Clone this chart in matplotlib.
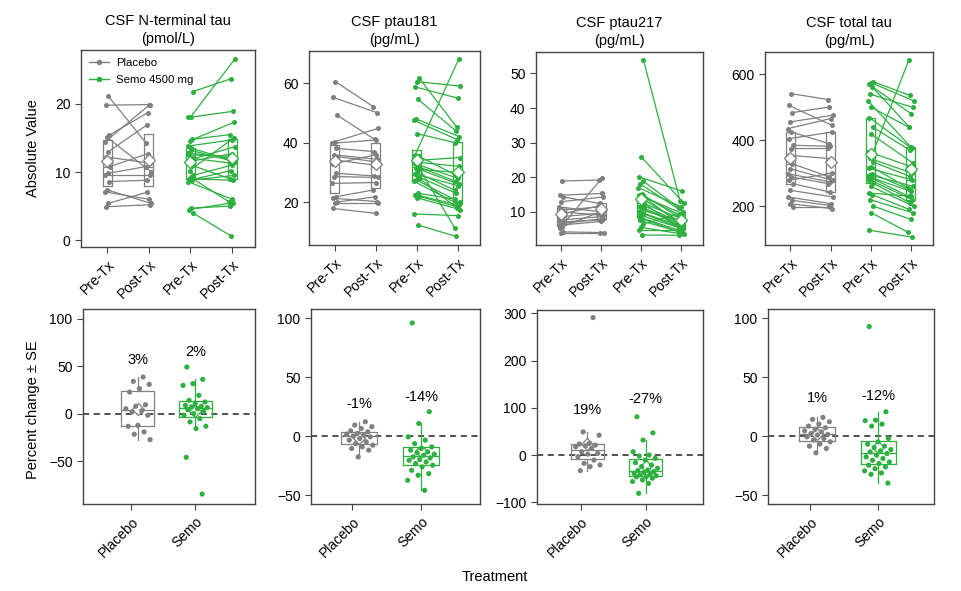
import numpy as np
import matplotlib
matplotlib.use('Agg')
import matplotlib.pyplot as plt
from matplotlib.lines import Line2D

plt.rcParams['font.family'] = ['Liberation Sans', 'DejaVu Sans']

GRAY = '#808080'
GREEN = '#2DB040'

titles = ['CSF N-terminal tau\n(pmol/L)', 'CSF ptau181\n(pg/mL)',
          'CSF ptau217\n(pg/mL)', 'CSF total tau\n(pg/mL)']
time_labels = ['Pre-Tx', 'Post-Tx', 'Pre-Tx', 'Post-Tx']
group_labels = ['Placebo', 'Semo']
legend_labels = ['Placebo', 'Semo 4500 mg']

# ---------------- top row: absolute values (pre, post) ----------------
nt_pla_pre = [21.2, 19.8, 15.4, 15.1, 14.4, 13.0, 12.2, 10.8, 9.8, 9.6, 8.6, 7.4, 7.1, 5.4, 4.9]
nt_pla_post = [14.2, 19.9, 18.7, 10.0, 19.8, 16.9, 11.3, 12.7, 10.8, 9.6, 8.8, 5.4, 6.0, 7.0, 5.2]
nt_sem_pre = [21.8, 18.1, 18.0, 14.8, 14.6, 13.8, 13.5, 12.5, 12.0, 11.8, 11.5, 11.0, 10.2, 9.5,
              9.2, 9.0, 8.9, 8.8, 8.6, 4.7, 4.5, 4.0, 13.2, 12.8]
nt_sem_post = [23.7, 26.6, 18.9, 15.5, 17.3, 14.7, 11.8, 12.3, 11.3, 13.7, 12.7, 9.0, 15.0, 11.0,
               5.6, 8.8, 10.2, 9.5, 6.0, 5.0, 5.5, 0.6, 11.5, 12.0]

p181_pla_pre = [60.5, 55.2, 49.3, 40.3, 39.8, 38.1, 35.9, 35.3, 34.2, 32.8, 29.7, 28.6, 26.3,
                21.8, 21.3, 20.0, 19.6, 17.9]
p181_pla_post = [52.1, 50.1, 41.1, 44.8, 40.9, 37.0, 34.4, 33.6, 32.5, 36.0, 28.8, 28.3, 26.6,
                 24.1, 20.2, 21.8, 19.6, 16.2]
p181_sem_pre = [61.8, 60.5, 58.8, 54.5, 48.0, 47.5, 43.0, 35.9, 35.5, 34.0, 33.0, 32.0, 31.5, 31.0,
                30.0, 29.5, 28.5, 27.5, 27.0, 23.0, 22.5, 22.0, 21.5, 16.0, 12.3, 33.5, 28.0, 32.5]
p181_sem_post = [45.2, 59.0, 54.9, 44.0, 42.0, 41.0, 40.0, 68.0, 29.0, 35.0, 28.0, 27.0, 26.0, 30.0,
                 24.0, 25.5, 23.0, 20.0, 19.5, 21.0, 19.0, 18.5, 17.5, 15.5, 8.5, 32.0, 18.0, 11.2]

p217_pla_pre = [18.9, 14.8, 14.3, 12.9, 11.4, 10.5, 10.0, 9.5, 8.6, 7.6, 7.1, 6.6, 6.1, 5.7, 5.2, 4.2, 3.9]
p217_pla_post = [19.2, 15.3, 12.4, 14.3, 10.0, 11.4, 9.0, 11.8, 9.5, 8.6, 7.6, 8.0, 7.2, 9.8, 19.9, 4.0, 3.9]
p217_sem_pre = [54.0, 25.9, 20.1, 19.0, 18.0, 17.0, 15.1, 14.8, 14.5, 14.0, 13.0, 12.0, 11.5, 11.0,
                10.5, 10.0, 9.5, 9.0, 8.5, 8.0, 7.5, 6.5, 5.5, 4.8, 3.3, 15.0, 12.5]
p217_sem_post = [13.0, 12.5, 16.0, 11.0, 10.0, 11.5, 8.5, 9.5, 9.0, 6.5, 8.0, 7.0, 6.2, 6.0,
                 7.5, 5.8, 5.5, 5.0, 4.5, 4.2, 4.0, 9.5, 3.5, 4.8, 3.2, 6.0, 5.0]

tt_pla_pre = [541.8, 506.0, 484.0, 455.7, 435.4, 425.3, 405.0, 384.8, 374.7, 354.4, 329.1, 314.0,
              298.7, 288.6, 278.5, 268.4, 248.0, 227.8, 217.7, 207.6, 197.5]
tt_pla_post = [523.5, 445.6, 501.0, 476.0, 466.0, 390.0, 425.0, 382.0, 375.0, 344.0, 288.6, 278.5,
               273.4, 268.4, 300.0, 243.0, 227.8, 207.6, 202.5, 192.4, 197.5]
tt_sem_pre = [578, 575, 570, 562, 540, 520, 500, 469, 440, 420, 365, 355, 345, 334, 320, 315, 299,
              295, 290, 285, 280, 270, 260, 240, 235, 220, 200, 180, 127]
tt_sem_post = [536, 520, 480, 440, 500, 380, 440, 375, 370, 330, 320, 645, 300, 290, 255, 280, 250,
               260, 245, 230, 220, 210, 200, 230, 190, 180, 160, 120, 106]

# ---------------- bottom row: percent change ----------------
pc_nt_pla = [38.5, 34.0, 30.8, 26.2, 22.7, 9.4, 7.7, 5.2, 3.0, 1.7, -1.7, -12.2, -13.3, -19.2, -21.7, -27.3]
pc_nt_sem = [49, 36, 31.5, 29.7, 19.2, 14, 12.2, 10.5, 8.7, 7.7, 7, 6.3, 5.2, 4.2, 2.4, 0, -1.7,
             -5.2, -8.7, -13.3, -15.7, -46, -84.6]
pc_181_pla = [12.2, 9.4, 8, 6.5, 4.5, 3.7, 2.3, 1.7, 0.9, 0, -0.6, -2, -3.4, -4.8, -6.3, -7.7,
              -9.1, -10.5, -11.9, -17.6]
pc_181_sem = [96, 20.7, 10.8, -0.6, -3.4, -6.3, -9.1, -10.5, -11.9, -13.4, -14.2, -15.3, -16.2,
              -17.6, -18.5, -19.9, -20.5, -21.9, -23.3, -24.7, -26.1, -29, -31.8, -33.2, -37.5, -46]
pc_217_pla = [291, 49, 42, 24.6, 23.2, 21, 19.7, 17.6, 14, 7, 3.5, 2, -3.5, -10.6, -17.6, -21, -24.6, -33]
pc_217_sem = [81, 47, 31.7, 7, 0, -2, -7, -10.6, -16, -21, -24.6, -28, -31.7, -33, -35, -37, -38.7,
              -40.8, -42, -43.7, -45.8, -46, -49, -52.8, -56, -60, -81]
pc_tt_pla = [15.9, 14.2, 12.2, 10.2, 8.5, 7.1, 5.7, 4.5, 3.7, 2.3, 1.4, 0.9, -0.6, -2, -3.4, -4.8,
             -6.8, -8.5, -10.5, -14.2]
pc_tt_sem = [93, 20.7, 13.6, 13.1, 10.2, 8.5, -2, -4.8, -6.8, -8.5, -9.7, -11.4, -12.5, -13.4, -14.8,
             -16.2, -17.6, -19, -20.5, -21.9, -23.3, -24.7, -26.1, -27.6, -29.5, -31.2, -32.4, -39.8]

pct_labels = [['3%', '2%'], ['-1%', '-14%'], ['19%', '-27%'], ['1%', '-12%']]
pct_label_y = [[56, 65], [27, 33], [95, 118], [32, 34]]

top_data = [
    (nt_pla_pre, nt_pla_post, nt_sem_pre, nt_sem_post),
    (p181_pla_pre, p181_pla_post, p181_sem_pre, p181_sem_post),
    (p217_pla_pre, p217_pla_post, p217_sem_pre, p217_sem_post),
    (tt_pla_pre, tt_pla_post, tt_sem_pre, tt_sem_post),
]
bot_data = [(pc_nt_pla, pc_nt_sem), (pc_181_pla, pc_181_sem),
            (pc_217_pla, pc_217_sem), (pc_tt_pla, pc_tt_sem)]

top_ylim = [(-1, 27.9), (5.6, 70.8), (0.4, 56.2), (82, 668)]
top_yticks = [[0, 10, 20], [20, 40, 60], [10, 20, 30, 40, 50], [200, 400, 600]]
bot_ylim = [(-95, 110), (-57.6, 107.9), (-103.6, 307), (-57.6, 107.9)]
bot_yticks = [[-50, 0, 50, 100], [-50, 0, 50, 100], [-100, 0, 100, 200, 300], [-50, 0, 50, 100]]
bot_xlim = [(0.25, 2.93), (0.40, 2.85), (0.32, 2.89), (0.38, 2.82)]

W, H = 962, 591
top_px = [(81, 255, 50, 247), (309, 480, 51, 245), (536, 703, 52, 245), (765, 933, 52, 245)]
bot_px = [(83, 255, 309, 504), (311, 480, 309, 504), (537, 703, 310, 504), (768, 934, 309, 504)]


def rect(l, r, t, b):
    return [l / W, 1 - b / H, (r - l) / W, (b - t) / H]


def jitter(n, width, phase=0.0):
    k = np.arange(n)
    return (((k + 1) * 0.6180339887 + phase) % 1 - 0.5) * 2 * width


def style_axis(ax):
    for s in ax.spines.values():
        s.set_color('#444444')
        s.set_linewidth(1.0)
    ax.tick_params(direction='out', length=4, width=0.8, color='#444444', labelsize=10,
                   labelcolor='black')


def boxes(ax, data, positions, colors, width, whisk):
    for d, p, c in zip(data, positions, colors):
        ax.boxplot([d], positions=[p], widths=width, showcaps=False, showfliers=False,
                   showmeans=True, whis=1.5 if whisk else 0,
                   boxprops=dict(color=c, lw=0.9),
                   medianprops=dict(color=c, lw=0.9),
                   whiskerprops=dict(color=c, lw=0.9 if whisk else 0),
                   meanprops=dict(marker='D', markerfacecolor='white', markeredgecolor=c,
                                  markersize=6, markeredgewidth=0.9),
                   manage_ticks=False, zorder=4)


fig = plt.figure(figsize=(W / 100, H / 100), dpi=100)

for i in range(4):
    ax = fig.add_axes(rect(*top_px[i]))
    style_axis(ax)
    pla_pre, pla_post, sem_pre, sem_post = top_data[i]
    for (pre, post, x0, c, ph) in [(pla_pre, pla_post, 1, GRAY, 0.0),
                                   (sem_pre, sem_post, 3, GREEN, 0.3)]:
        n = len(pre)
        xa = x0 + jitter(n, 0.07, ph)
        xb = x0 + 1 + jitter(n, 0.07, ph + 0.45)
        for k in range(n):
            ax.plot([xa[k], xb[k]], [pre[k], post[k]], color=c, lw=0.9, marker='o',
                    ms=2.6, zorder=3)
        boxes(ax, [pre, post], [x0, x0 + 1], [c, c], 0.22, False)
    ax.set_xlim(0.37, 4.55)
    ax.set_ylim(*top_ylim[i])
    ax.set_yticks(top_yticks[i])
    ax.set_xticks([1, 2, 3, 4])
    ax.set_xticklabels(time_labels, rotation=45, ha='right', rotation_mode='anchor')
    ax.set_title(titles[i], fontsize=10.5, pad=5, linespacing=1.35)
    if i == 0:
        handles = [Line2D([0], [0], color=GRAY, marker='o', ms=3, lw=1, label=legend_labels[0]),
                   Line2D([0], [0], color=GREEN, marker='o', ms=3, lw=1, label=legend_labels[1])]
        ax.legend(handles=handles, loc='upper left', frameon=False, fontsize=8.2,
                  handlelength=1.8, labelspacing=0.6, borderaxespad=0.3, handletextpad=0.6)

for i in range(4):
    ax = fig.add_axes(rect(*bot_px[i]))
    style_axis(ax)
    pla, sem = bot_data[i]
    centers = [1.1, 2.0]
    ax.axhline(0, color='#222222', lw=1.1, ls=(0, (4, 3)), zorder=2)
    boxes(ax, [pla, sem], centers, [GRAY, GREEN], 0.52, True)
    for d, cx, c, ph in [(pla, centers[0], GRAY, 0.1), (sem, centers[1], GREEN, 0.55)]:
        ax.scatter(cx + jitter(len(d), 0.2, ph), d, s=14, color=c, edgecolors='none', zorder=5)
    for j in range(2):
        ax.text(centers[j], pct_label_y[i][j], pct_labels[i][j], ha='center', va='center',
                fontsize=10.5)
    ax.set_xlim(*bot_xlim[i])
    ax.set_ylim(*bot_ylim[i])
    ax.set_yticks(bot_yticks[i])
    ax.set_xticks([1, 2])
    ax.set_xticklabels(group_labels, rotation=45, ha='right', rotation_mode='anchor')

fig.text(33 / W, 1 - 148 / H, 'Absolute Value', rotation=90, ha='center', va='center', fontsize=10.5)
fig.text(33 / W, 1 - 410 / H, 'Percent change ± SE', rotation=90, ha='center', va='center',
         fontsize=10.5)
fig.text(495 / W, 1 - 577 / H, 'Treatment', ha='center', va='center', fontsize=10.5)

fig.savefig('out.png', dpi=100)
